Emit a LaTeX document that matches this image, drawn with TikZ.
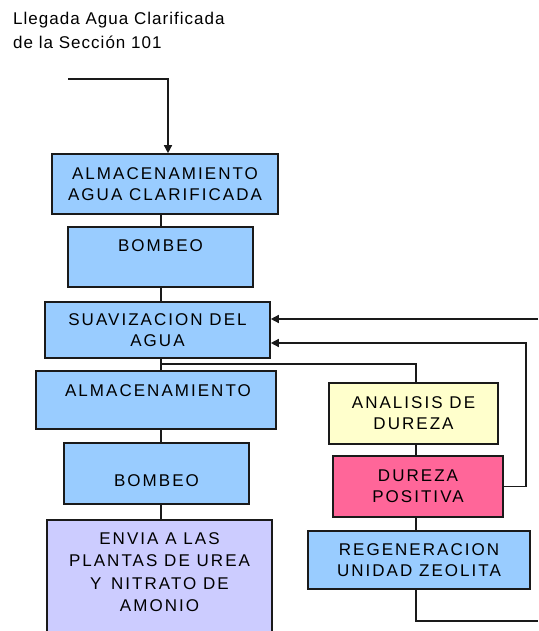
\documentclass[tikz,border=0pt]{standalone}
\usepackage{fontspec}
\setmainfont{Liberation Sans}
\newfontfamily\boxfont[LetterSpace=12]{Liberation Sans}
\newfontfamily\titlefont[LetterSpace=6]{Liberation Sans}
\usetikzlibrary{arrows.meta}
\definecolor{cblue}{HTML}{99CCFF}
\definecolor{cyellow}{HTML}{FFFFCC}
\definecolor{cpink}{HTML}{FF6699}
\definecolor{clav}{HTML}{CCCCFF}
\definecolor{cline}{HTML}{1A1A1A}
\tikzset{
  procbox/.style={draw=cline, line width=1.6pt, rectangle, inner sep=0pt, text=black,
    font=\boxfont\fontsize{17}{21}\selectfont, align=center},
  boxtext/.style={inner sep=0pt, text=black, font=\boxfont\fontsize{17}{21}\selectfont, align=center},
  conn/.style={draw=cline, line width=1.4pt},
  arr/.style={conn, -{Triangle[length=8pt,width=8pt]}}
}
\begin{document}
\begin{tikzpicture}[x=1pt,y=-1pt]
\useasboundingbox (0,0) rectangle (538,631);
\begin{scope}
\clip (0,0) rectangle (538,631);
% title
\node[anchor=base west, inner sep=0pt, align=left, font=\titlefont\fontsize{17}{24}\selectfont] (title) at (13,49) {Llegada Agua Clarificada\\de la Sección 101};
% boxes
\node[procbox, fill=cblue, minimum width=226pt, minimum height=60pt] (b1) at (165,184) {ALMACENAMIENTO\\AGUA CLARIFICADA};
\node[procbox, fill=cblue, minimum width=185pt, minimum height=60pt] (b2) at (160.5,257) {};
\node[boxtext] (b2t) at (160.5,246) {BOMBEO};
\node[procbox, fill=cblue, minimum width=225pt, minimum height=56pt] (b3) at (157.5,330) {SUAVIZACION DEL\\AGUA};
\node[procbox, fill=cblue, minimum width=240pt, minimum height=58pt] (b4) at (156,400) {};
\node[boxtext] (b4t) at (158,391) {ALMACENAMIENTO};
\node[procbox, fill=cblue, minimum width=185pt, minimum height=61pt] (b5) at (156.5,473.5) {};
\node[boxtext] (b5t) at (156.5,481) {BOMBEO};
\node[procbox, fill=clav, minimum width=225pt, minimum height=130pt] (b6) at (159.5,585) {};
\node[boxtext, font=\boxfont\fontsize{17}{22.5}\selectfont] (b6t) at (159.5,572) {ENVIA A LAS\\PLANTAS DE UREA\\Y\, NITRATO DE\\AMONIO};
\node[procbox, fill=cyellow, minimum width=169pt, minimum height=61pt] (an) at (413.5,413.5) {ANALISIS DE\\DUREZA};
\node[procbox, fill=cpink, minimum width=170pt, minimum height=61pt] (dp) at (418,486.5) {DUREZA\\POSITIVA};
\node[procbox, fill=cblue, minimum width=222pt, minimum height=58pt] (rg) at (419,560) {REGENERACION\\UNIDAD ZEOLITA};
% coordinates
\coordinate (in0) at (68,79);
\coordinate (in1) at (168,79);
\coordinate (spine) at (161,364);
\coordinate (rspine) at (416,364);
\coordinate (r1) at (538,319);
\coordinate (r2) at (526,343);
\coordinate (r3) at (538,621);
% connectors
\draw[arr] (in0) -- (in1) -- (in1 |- b1.north);
\draw[conn] (b1.south -| spine) -- (b2.north -| spine);
\draw[conn] (b2.south -| spine) -- (b3.north -| spine);
\draw[conn] (b3.south -| spine) -- (b4.north -| spine);
\draw[conn] (spine) -- (rspine) -- (an.north -| rspine);
\draw[conn] (b4.south -| spine) -- (b5.north -| spine);
\draw[conn] (b5.south -| spine) -- (b6.north -| spine);
\draw[conn] (an.south -| rspine) -- (dp.north -| rspine);
\draw[conn] (dp.south -| rspine) -- (rg.north -| rspine);
\draw[conn] (rg.south -| rspine) -- (rspine |- r3) -- (r3);
\draw[arr] (r1) -- (r1 -| b3.east);
\draw[arr] (dp.east) -- (dp.east -| r2) -- (r2) -- (r2 -| b3.east);
\end{scope}
\end{tikzpicture}
\end{document}
